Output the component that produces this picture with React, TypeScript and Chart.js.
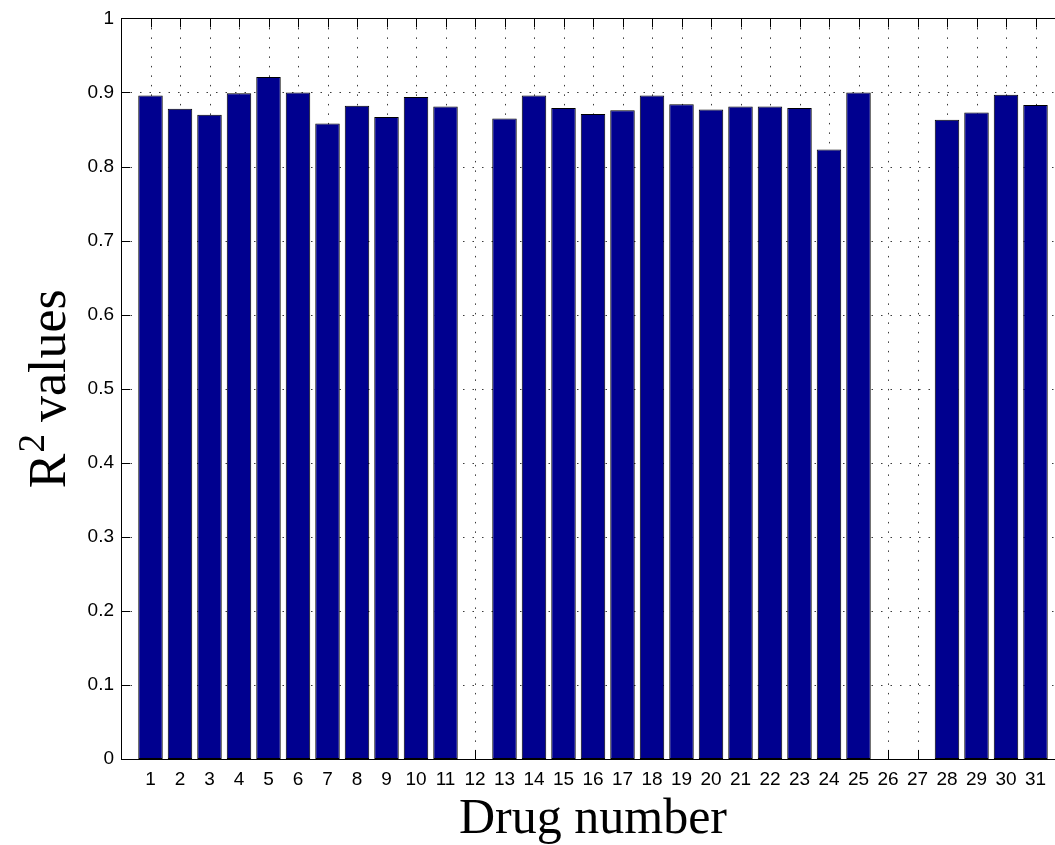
import React, { useEffect, useRef } from "react";
import { Chart, registerables } from "chart.js";

Chart.register(...registerables);

// Drug indices along the x axis
const drugNumbers = [
  1, 2, 3, 4, 5, 6, 7, 8, 9, 10, 11, 12, 13, 14, 15, 16,
  17, 18, 19, 20, 21, 22, 23, 24, 25, 26, 27, 28, 29, 30, 31,
];

// Coefficient of determination per drug (null = no fit available)
const r2Values: (number | null)[] = [
  0.896, 0.878, 0.870, 0.899, 0.921, 0.900, 0.858, 0.882, 0.867, 0.894,
  0.881, null, 0.865, 0.896, 0.879, 0.871, 0.876, 0.896, 0.884, 0.877,
  0.881, 0.881, 0.879, 0.823, 0.900, null, null, 0.863, 0.873, 0.897,
  0.883,
];

// Axis extents and tick values
const xMin = 0;
const xMax = 32;
const yTickValues = [0, 0.1, 0.2, 0.3, 0.4, 0.5, 0.6, 0.7, 0.8, 0.9, 1];

const xTitle = "Drug number";
const yTitleBase = "R";
const yTitleSup = "2";
const yTitleRest = " values";

const CANVAS_W = 1065;
const CANVAS_H = 845;

// Dotted grid, inward tick marks (drawn beneath the bars)
const gridPlugin = {
  id: "matlabGrid",
  beforeDatasetsDraw(chart: any) {
    const { ctx, chartArea } = chart;
    const xs = chart.scales.x;
    const ys = chart.scales.y;
    const { left, right, top, bottom } = chartArea;
    ctx.save();
    ctx.strokeStyle = "#3a3a3a";
    ctx.lineWidth = 1;
    ctx.setLineDash([1.5, 8]);
    for (const v of drugNumbers) {
      const px = Math.round(xs.getPixelForValue(v)) + 0.5;
      ctx.beginPath();
      ctx.moveTo(px, top);
      ctx.lineTo(px, bottom);
      ctx.stroke();
    }
    for (const v of yTickValues) {
      if (v === yTickValues[0] || v === yTickValues[yTickValues.length - 1]) continue;
      const py = Math.round(ys.getPixelForValue(v)) + 0.5;
      ctx.beginPath();
      ctx.moveTo(left, py);
      ctx.lineTo(right, py);
      ctx.stroke();
    }
    ctx.setLineDash([]);
    ctx.strokeStyle = "#000";
    const tl = 9;
    for (const v of drugNumbers) {
      const px = Math.round(xs.getPixelForValue(v)) + 0.5;
      ctx.beginPath();
      ctx.moveTo(px, top);
      ctx.lineTo(px, top + tl);
      ctx.moveTo(px, bottom);
      ctx.lineTo(px, bottom - tl);
      ctx.stroke();
    }
    for (const v of yTickValues) {
      const py = Math.round(ys.getPixelForValue(v)) + 0.5;
      ctx.beginPath();
      ctx.moveTo(left, py);
      ctx.lineTo(left + tl, py);
      ctx.moveTo(right, py);
      ctx.lineTo(right - tl, py);
      ctx.stroke();
    }
    ctx.restore();
  },
  afterDatasetsDraw(chart: any) {
    const { ctx, chartArea } = chart;
    const { left, right, top, bottom } = chartArea;
    ctx.save();
    ctx.strokeStyle = "#000";
    ctx.lineWidth = 1;
    ctx.strokeRect(Math.round(left) + 0.5, Math.round(top) + 0.5, Math.round(right - left), Math.round(bottom - top));
    ctx.restore();
  },
};

// Axis titles in a serif face, with a raised exponent on the y title
const titlePlugin = {
  id: "axisTitles",
  afterDraw(chart: any) {
    const { ctx, chartArea } = chart;
    const cx = (chartArea.left + chartArea.right) / 2;
    const cy = (chartArea.top + chartArea.bottom) / 2;
    ctx.save();
    ctx.fillStyle = "#000";
    ctx.textBaseline = "alphabetic";
    ctx.textAlign = "center";
    ctx.font = '50px "Liberation Serif", "Times New Roman", serif';
    ctx.fillText(xTitle, cx, 833);

    ctx.translate(65, cy);
    ctx.rotate(-Math.PI / 2);
    ctx.textAlign = "left";
    const big = '52px "Liberation Serif", "Times New Roman", serif';
    const small = '37px "Liberation Serif", "Times New Roman", serif';
    ctx.font = big;
    const wR = ctx.measureText(yTitleBase).width;
    const wRest = ctx.measureText(yTitleRest).width;
    ctx.font = small;
    const w2 = ctx.measureText(yTitleSup).width;
    const total = wR + w2 + wRest;
    let x0 = -total / 2;
    ctx.font = big;
    ctx.fillText(yTitleBase, x0, 0);
    x0 += wR;
    ctx.font = small;
    ctx.fillText(yTitleSup, x0 + 1, -21);
    x0 += w2;
    ctx.font = big;
    ctx.fillText(yTitleRest, x0, 0);
    ctx.restore();
  },
};

export default function App() {
  const canvasRef = useRef<HTMLCanvasElement | null>(null);

  useEffect(() => {
    const canvas = canvasRef.current;
    if (!canvas) return;
    const points = drugNumbers.map((d, i) => ({ x: d, y: r2Values[i] }));
    const chart = new Chart(canvas, {
      type: "bar",
      data: {
        datasets: [
          {
            label: "R2",
            data: points as any,
            backgroundColor: "#00008f",
            borderColor: "#000000",
            borderWidth: 1,
            borderSkipped: false,
            barPercentage: 0.83,
            categoryPercentage: 1,
          },
        ],
      },
      options: {
        responsive: false,
        animation: false,
        devicePixelRatio: 1,
        layout: { padding: { left: 0, right: 0, top: 15, bottom: 0 } },
        plugins: {
          legend: { display: false },
          tooltip: { enabled: false },
          title: { display: false },
        },
        scales: {
          x: {
            type: "linear",
            offset: false,
            min: xMin,
            max: xMax,
            grid: { display: false, drawTicks: false, offset: false },
            border: { display: false },
            afterBuildTicks(scale: any) {
              scale.ticks = drugNumbers.map((v) => ({ value: v }));
            },
            afterFit(scale: any) {
              scale.height = 86;
            },
            ticks: {
              autoSkip: false,
              maxRotation: 0,
              padding: 9,
              color: "#000",
              font: { family: '"Liberation Sans", Arial, sans-serif', size: 19 },
              callback: (v: any) => String(v),
            },
          },
          y: {
            min: 0,
            max: 1,
            grid: { display: false, drawTicks: false },
            border: { display: false },
            afterBuildTicks(scale: any) {
              scale.ticks = yTickValues.map((v) => ({ value: v }));
            },
            afterFit(scale: any) {
              scale.width = 121;
            },
            ticks: {
              padding: 7,
              color: "#000",
              font: { family: '"Liberation Sans", Arial, sans-serif', size: 19 },
              callback: (v: any) => String(Math.round(Number(v) * 10) / 10),
            },
          },
        },
      },
      plugins: [gridPlugin, titlePlugin],
    });
    return () => chart.destroy();
  }, []);

  return (
    <div
      style={{
        position: "fixed",
        left: 0,
        top: 0,
        width: 1055,
        height: 845,
        overflow: "hidden",
        background: "#fff",
      }}
    >
      <canvas
        ref={canvasRef}
        width={CANVAS_W}
        height={CANVAS_H}
        style={{ display: "block", width: CANVAS_W, height: CANVAS_H }}
      />
    </div>
  );
}
